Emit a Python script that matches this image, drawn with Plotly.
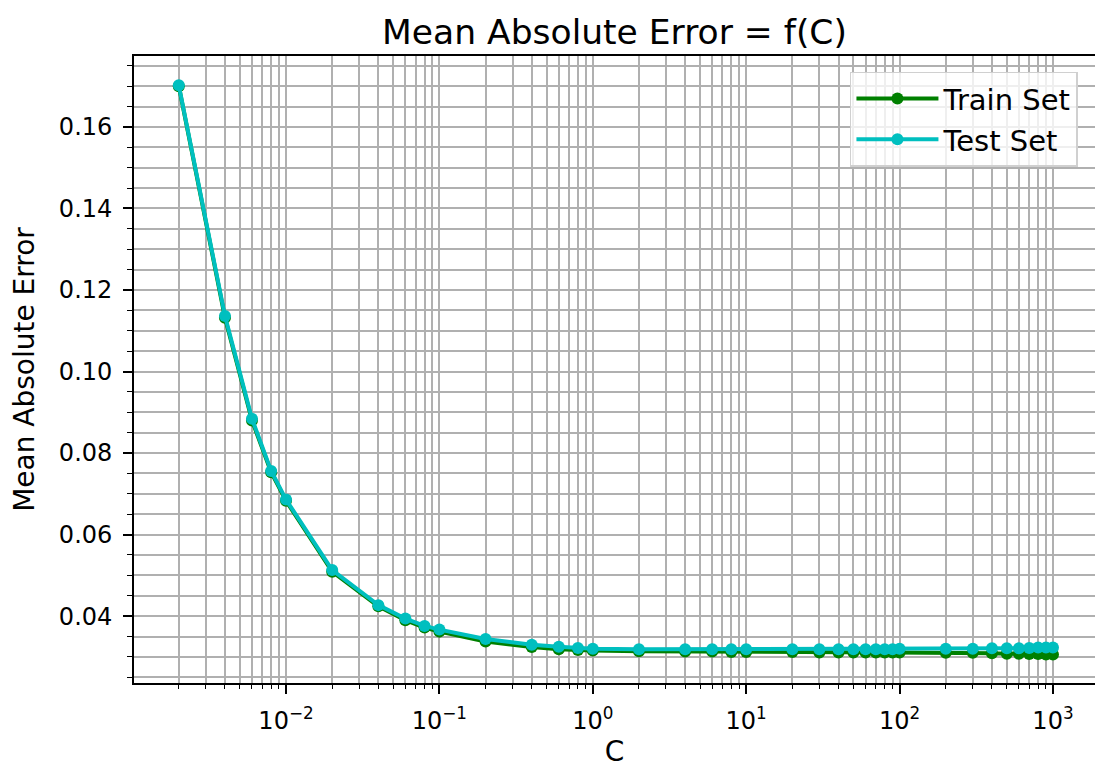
import plotly.graph_objects as go

C_values = [0.002, 0.004, 0.006, 0.008, 0.01, 0.02, 0.04, 0.06, 0.08, 0.1,
            0.2, 0.4, 0.6, 0.8, 1, 2, 4, 6, 8, 10,
            20, 30, 40, 50, 60, 70, 80, 90, 100,
            200, 300, 400, 500, 600, 700, 800, 900, 1000]

train_mae = [0.1700, 0.1132, 0.0880, 0.0753, 0.0683, 0.0509, 0.0424, 0.0390, 0.0372, 0.0362,
             0.0338, 0.0324, 0.0319, 0.0317, 0.0316, 0.0314, 0.0313, 0.0313, 0.0312, 0.0312,
             0.0312, 0.0311, 0.0311, 0.0311, 0.0311, 0.0311, 0.0311, 0.0311, 0.0311,
             0.0310, 0.0310, 0.0309, 0.0308, 0.0308, 0.0307, 0.0307, 0.0306, 0.0306]

test_mae = [0.1702, 0.1136, 0.0884, 0.0756, 0.0686, 0.0513, 0.0427, 0.0394, 0.0376, 0.0367,
            0.0344, 0.0330, 0.0325, 0.0322, 0.0320, 0.0319, 0.0319, 0.0319, 0.0319, 0.0319,
            0.0319, 0.0319, 0.0319, 0.0319, 0.0319, 0.0319, 0.0319, 0.0319, 0.0320,
            0.0320, 0.0320, 0.0321, 0.0321, 0.0321, 0.0322, 0.0323, 0.0323, 0.0323]

major_x = [0.01, 0.1, 1, 10, 100, 1000]
major_x_text = ["10<sup>−2</sup>", "10<sup>−1</sup>", "10<sup>0</sup>",
                "10<sup>1</sup>", "10<sup>2</sup>", "10<sup>3</sup>"]
minor_x = [m * 10.0 ** k for k in range(-3, 4) for m in range(2, 10)]

FONT = "DejaVu Sans"
GRID = "#b0b0b0"
GREEN = "#008000"
CYAN = "#00bfbf"

fig = go.Figure()

# invisible helper trace so the minor-tick overlay axis is drawn
fig.add_trace(go.Scatter(x=C_values, y=train_mae, xaxis="x2", mode="lines",
                         line=dict(color="rgba(0,0,0,0)"), showlegend=False,
                         hoverinfo="skip"))

fig.add_trace(go.Scatter(x=C_values, y=train_mae, name="Train Set", mode="lines+markers",
                         line=dict(color=GREEN, width=4),
                         marker=dict(color=GREEN, size=12)))
fig.add_trace(go.Scatter(x=C_values, y=test_mae, name="Test Set", mode="lines+markers",
                         line=dict(color=CYAN, width=4),
                         marker=dict(color=CYAN, size=12)))

xr = [-2.991, 3.274]

fig.update_layout(
    width=1095, height=769,
    margin=dict(l=134, r=0, t=56, b=86),
    paper_bgcolor="white", plot_bgcolor="white",
    font=dict(family=FONT, color="black", size=23),
    title=dict(text="Mean Absolute Error = f(C)", x=0.5, xref="paper",
               y=1 - 32 / 769, yref="container", yanchor="middle", xanchor="center",
               font=dict(size=34.5, family=FONT, color="black")),
    xaxis=dict(type="log", range=xr, tickmode="array", tickvals=major_x,
               ticktext=major_x_text, ticks="outside", ticklen=9, tickwidth=1.6,
               tickcolor="black", showgrid=True, gridcolor=GRID, gridwidth=1.6,
               showline=True, linecolor="black", linewidth=1.8, mirror=True,
               zeroline=False, tickfont=dict(size=24), ticklabelstandoff=6,
               title=dict(text="C", font=dict(size=28), standoff=8)),
    xaxis2=dict(type="log", range=xr, overlaying="x", anchor="y", side="bottom",
                tickmode="array", tickvals=minor_x, showticklabels=False,
                ticks="outside", ticklen=5, tickwidth=1.4, tickcolor="black",
                showgrid=True, gridcolor=GRID, gridwidth=1.6, showline=False,
                zeroline=False),
    yaxis=dict(range=[0.0236, 0.1774], tickmode="linear", tick0=0, dtick=0.02,
               tickformat=".2f", ticks="outside", ticklen=9, tickwidth=1.6,
               tickcolor="black", showgrid=True, gridcolor=GRID, gridwidth=1.6,
               showline=True, linecolor="black", linewidth=1.8, mirror=False,
               zeroline=False, tickfont=dict(size=24), ticklabelstandoff=6,
               minor=dict(dtick=0.005, ticks="outside", ticklen=5, tickwidth=1.4,
                          tickcolor="black", showgrid=True, gridcolor=GRID, gridwidth=1.6),
               title=dict(text="Mean Absolute Error", font=dict(size=28), standoff=16)),
    legend=dict(x=0.745, y=0.975, xanchor="left", yanchor="top",
                bgcolor="rgba(255,255,255,0.8)", bordercolor="#d0d0d0", borderwidth=1.5,
                font=dict(size=29, family=FONT), tracegroupgap=0, itemwidth=82),
    showlegend=True,
)

fig.write_html("out.html")
